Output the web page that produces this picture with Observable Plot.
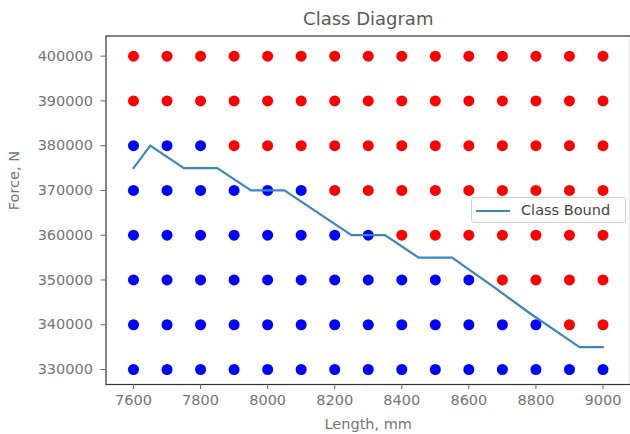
<!DOCTYPE html>
<html>
<head>
<meta charset="utf-8">
<script src="https://cdn.jsdelivr.net/npm/d3@7"></script>
<script src="https://cdn.jsdelivr.net/npm/@observablehq/plot@0.6"></script>
<style>
  html, body { margin: 0; padding: 0; background: #fff; }
  #wrap { position: relative; width: 630px; height: 434px; overflow: hidden; }
  #legend {
    position: absolute; left: 471px; top: 197px; width: 155px; height: 26px;
    box-sizing: border-box; border: 1px solid #d0d0d0; border-radius: 3px;
    background: rgba(255,255,255,0.85);
    font-family: "DejaVu Sans", sans-serif; font-size: 14.5px; color: #444;
  }
  #legend .sw { position: absolute; left: 4px; top: 11.5px; width: 34px; height: 0; border-top: 2.5px solid #3a87bf; }
  #legend .lb { position: absolute; left: 49px; top: 4px; white-space: nowrap; line-height: 17px; }
</style>
</head>
<body>
<div id="wrap"></div>
<script>
// Grid of lengths (mm) and forces (N)
const lengths = [7600, 7700, 7800, 7900, 8000, 8100, 8200, 8300, 8400, 8500, 8600, 8700, 8800, 8900, 9000];
const forces  = [330000, 340000, 350000, 360000, 370000, 380000, 390000, 400000];
// number of blue (class 0) points per force row, counted from the left; the rest are red
const blueCounts = [15, 13, 11, 8, 6, 3, 0, 0];

// Class bound line
const boundLength = [7600, 7650, 7750, 7850, 7950, 8050, 8250, 8350, 8450, 8550, 8675, 8785, 8930, 9000];
const boundForce  = [375000, 380000, 375000, 375000, 370000, 370000, 360000, 360000, 355000, 355000, 348400, 342400, 335000, 335000];

const xTicks = [7600, 7800, 8000, 8200, 8400, 8600, 8800, 9000];
const yTicks = [330000, 340000, 350000, 360000, 370000, 380000, 390000, 400000];

const points = [];
forces.forEach((f, i) => {
  lengths.forEach((l, j) => {
    points.push({length: l, force: f, cls: j < blueCounts[i] ? "blue" : "red"});
  });
});
const bound = boundLength.map((l, i) => ({length: l, force: boundForce[i]}));

const chart = Plot.plot({
  width: 630,
  height: 434,
  marginLeft: 105.5,
  marginRight: 0,
  marginTop: 35.5,
  marginBottom: 50,
  x: {domain: [7518, 9082]},
  y: {domain: [326650, 404500]},
  style: {fontFamily: "DejaVu Sans, sans-serif", fontSize: "14.5px", color: "#757575", background: "#fff"},
  marks: [
    Plot.dot(points.filter(d => d.cls === "blue"), {x: "length", y: "force", r: 5.5, fill: "#0000ff", stroke: "none"}),
    Plot.dot(points.filter(d => d.cls === "red"), {x: "length", y: "force", r: 5.5, fill: "#ff0000", stroke: "none"}),
    Plot.line(bound, {x: "length", y: "force", stroke: "#3a87bf", strokeWidth: 2.2}),
    Plot.frame({stroke: "#333", strokeWidth: 1.2}),
    Plot.axisX({ticks: xTicks, tickSize: 5, tickPadding: 5, tickFormat: d => String(d), label: null, stroke: "#666"}),
    Plot.axisY({ticks: yTicks, tickSize: 5, tickPadding: 8, tickFormat: d => String(d), label: null, stroke: "#666"}),
    Plot.text(["Class Diagram"], {frameAnchor: "top", dy: -11, fontSize: 18, fill: "#5a5a5a", lineAnchor: "bottom"}),
    Plot.text(["Length, mm"], {frameAnchor: "bottom", dy: 44, fontSize: 14.5, fill: "#757575"}),
    Plot.text(["Force, N"], {frameAnchor: "left", dx: -92, rotate: -90, fontSize: 14.5, fill: "#757575"})
  ]
});

const wrap = document.getElementById("wrap");
wrap.appendChild(chart);
const legend = document.createElement("div");
legend.id = "legend";
legend.innerHTML = '<div class="sw"></div><div class="lb">Class Bound</div>';
wrap.appendChild(legend);
</script>
</body>
</html>
